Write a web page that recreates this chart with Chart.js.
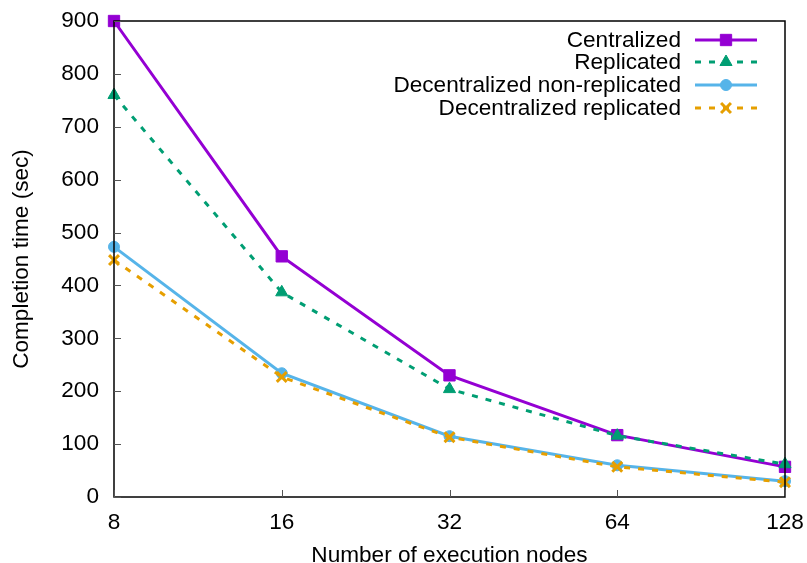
<!DOCTYPE html>
<html><head><meta charset="utf-8">
<script src="https://cdn.jsdelivr.net/npm/chart.js@4"></script>
<style>html,body{margin:0;padding:0;background:#fff}#wrap{width:807px;height:563px}</style>
</head><body><div id="wrap"><canvas id="c" width="807" height="563"></canvas></div>
<script>
const categories = ['8','16','32','64','128'];
const centralized = [900, 455, 230, 117, 57];
const replicated = [760, 387, 204, 116, 62];
const decNonRep = [473, 234, 115, 60, 30];
const decRep = [448, 227, 113, 57, 28];
const yTicks = [0,100,200,300,400,500,600,700,800,900];
const seriesNames = ['Centralized','Replicated','Decentralized non-replicated','Decentralized replicated'];
const colors = ['#9400D3','#009E73','#56B4E9','#E69F00'];
const styles = ['rect','triangle','circle','crossRot'];
const radii = [8,7,5.5,7];
const dashes = [[],[6,8],[],[6,8]];
const FONT = '"Liberation Sans", Arial, sans-serif';
const FS = 22.6;
const LFS = 22.6;

const framePlugin = {
  id:'frame',
  beforeDraw(chart){ const c=chart.ctx; c.save(); c.fillStyle='#fff'; c.fillRect(0,0,chart.width,chart.height); c.restore(); },
  afterDatasetsDraw(chart){
    const {ctx, chartArea:a, scales:{x,y}} = chart;
    ctx.save();
    ctx.strokeStyle='#000'; ctx.lineWidth=1.5;
    ctx.strokeRect(a.left,a.top,a.right-a.left,a.bottom-a.top);
    ctx.strokeStyle='#555'; ctx.lineWidth=1;
    ctx.beginPath();
    yTicks.forEach(v=>{const p=Math.round(y.getPixelForValue(v))+0.5; ctx.moveTo(a.left,p);ctx.lineTo(a.left+7,p);});
    categories.forEach((c,i)=>{const p=Math.round(x.getPixelForValue(i))+0.5; ctx.moveTo(p,a.bottom);ctx.lineTo(p,a.bottom-7);});
    ctx.stroke();
    // legend
    ctx.font=LFS+'px '+FONT; ctx.textAlign='right'; ctx.textBaseline='middle';
    const ly=[40,62,85,108];
    seriesNames.forEach((n,i)=>{
      ctx.fillStyle='#000';
      ctx.fillText(n,681,ly[i]+1);
      ctx.strokeStyle=colors[i]; ctx.lineWidth=3; ctx.setLineDash(dashes[i]);
      ctx.beginPath(); ctx.moveTo(695,ly[i]); ctx.lineTo(757,ly[i]); ctx.stroke(); ctx.setLineDash([]);
      ctx.fillStyle=colors[i]; ctx.strokeStyle=colors[i];
      ctx.lineWidth=styles[i]==='crossRot'?3:1;
      Chart.helpers.drawPoint(ctx,{pointStyle:styles[i],radius:radii[i],borderWidth:styles[i]==='crossRot'?3:1},726,ly[i]);
    });
    ctx.restore();
  }
};

const mk=(i,data)=>({label:seriesNames[i],data,borderColor:colors[i],backgroundColor:colors[i],borderWidth:3,borderDash:dashes[i],
  pointStyle:styles[i],pointRadius:radii[i],pointBorderWidth:styles[i]==='crossRot'?3:1,pointBackgroundColor:colors[i],pointBorderColor:colors[i],
  tension:0,order:3-i,clip:false});

new Chart(document.getElementById('c'),{
  type:'line',
  data:{labels:categories,datasets:[mk(0,centralized),mk(1,replicated),mk(2,decNonRep),mk(3,decRep)]},
  options:{
    responsive:false,animation:false,devicePixelRatio:1,
    layout:{padding:{top:21,right:22,left:0,bottom:0}},
    plugins:{legend:{display:false},tooltip:{enabled:false}},
    scales:{
      x:{type:'category',offset:false,grid:{display:false,drawTicks:false},border:{display:false},
        ticks:{color:'#000',font:{family:FONT,size:FS},padding:12,maxRotation:0},
        title:{display:true,text:'Number of execution nodes',color:'#000',font:{family:FONT,size:FS},padding:{top:4,bottom:-6}},
        afterFit(s){s.height=66;s.paddingLeft=0;s.paddingRight=0;}},
      y:{min:0,max:900,grid:{display:false,drawTicks:false},border:{display:false},
        afterBuildTicks(s){s.ticks=yTicks.map(v=>({value:v}));},
        ticks:{color:'#000',font:{family:FONT,size:FS},padding:15},
        title:{display:true,text:'Completion time (sec)',color:'#000',font:{family:FONT,size:FS},padding:{top:8,bottom:0}},
        afterFit(s){s.width=114;s.paddingTop=0;s.paddingBottom=0;}}
    }
  },
  plugins:[framePlugin]
});
</script></body></html>
